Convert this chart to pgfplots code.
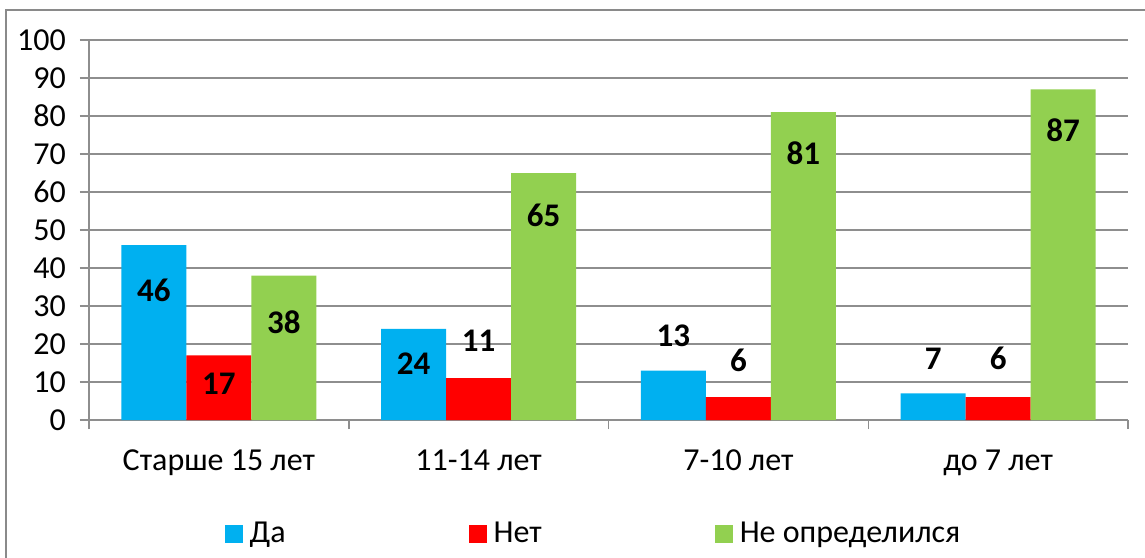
\documentclass[border=0pt]{standalone}
\usepackage{fontspec}
\setmainfont{Carlito}
\usepackage{pgfplots}
\usepackage{pgfplotstable}
\pgfplotsset{compat=1.18}
\definecolor{cda}{HTML}{00B0F0}
\definecolor{cnet}{HTML}{FF0000}
\definecolor{cne}{HTML}{92D050}
\definecolor{gridc}{HTML}{8E8E8E}
\definecolor{framec}{HTML}{8A8A8A}

% x: category index, y: value, off: label offset (pt) from bar top
\pgfplotstableread{
x y off
0 46 -22.5
1 24 -17.5
2 13 17.5
3 7 17.5
}\tabDa
\pgfplotstableread{
x y off
0 17 -14
1 11 18.5
2 6 18.5
3 6 19.5
}\tabNet
\pgfplotstableread{
x y off
0 38 -23.5
1 65 -21
2 81 -20.5
3 87 -20.5
}\tabNe

\begin{document}
\begin{tikzpicture}
\path[use as bounding box] (-44.5pt,-68.5pt) rectangle (528pt,210pt);
\draw[framec, line width=1pt] (-41.5pt,-75pt) -- (-41.5pt,205pt) -- (535pt,205pt);
\begin{axis}[
  at={(0pt,0pt)}, anchor=south west,
  scale only axis, width=519.5pt, height=190pt,
  ybar=0pt, bar width=32.5pt,
  xmin=-0.5, xmax=3.5, ymin=0, ymax=100,
  ytick={0,10,...,100},
  xtick={0,1,2,3},
  xticklabels={Старше 15 лет, 11-14 лет, 7-10 лет, до 7 лет},
  minor xtick={-0.5,0.5,1.5,2.5,3.5},
  major x tick style={draw=none},
  axis x line=bottom, axis y line=left,
  axis line style={gridc, line width=0.75pt, -},
  ymajorgrids, grid style={gridc, line width=0.75pt},
  tick style={gridc, line width=0.75pt},
  tick align=outside, major tick length=4.5pt, minor tick length=4.5pt,
  /pgf/number format/assume math mode=true,
  tick label style={font=\fontsize{16}{19}\selectfont, black},
  yticklabel style={xshift=-3.6pt},
  xticklabel style={anchor=base, yshift=-20.5pt},
  nodes near coords,
  visualization depends on={\thisrow{off} \as \myoff},
  every node near coord/.append style={anchor=center, yshift=\myoff pt,
     font=\fontsize{16.5}{19}\selectfont\bfseries, black},
  legend style={at={(0.4846,-0.30)}, anchor=center, draw=none,
     legend columns=3, font=\fontsize{16}{19}\selectfont,
     nodes={inner sep=0pt},
     /tikz/column 1/.style={column sep=3.5pt},
     /tikz/column 2/.style={column sep=91.5pt},
     /tikz/column 3/.style={column sep=3.5pt},
     /tikz/column 4/.style={column sep=86.5pt},
     /tikz/column 5/.style={column sep=3.5pt}},
  legend image code/.code={\draw[#1,draw=none] (0pt,-4.5pt) rectangle (9pt,4.5pt);},
]
\addplot[fill=cda, draw=none] table[x=x, y=y] {\tabDa};
\addplot[fill=cnet, draw=none] table[x=x, y=y] {\tabNet};
\addplot[fill=cne, draw=none] table[x=x, y=y] {\tabNe};
\legend{Да, Нет, Не определился}
\end{axis}
\end{tikzpicture}
\end{document}
